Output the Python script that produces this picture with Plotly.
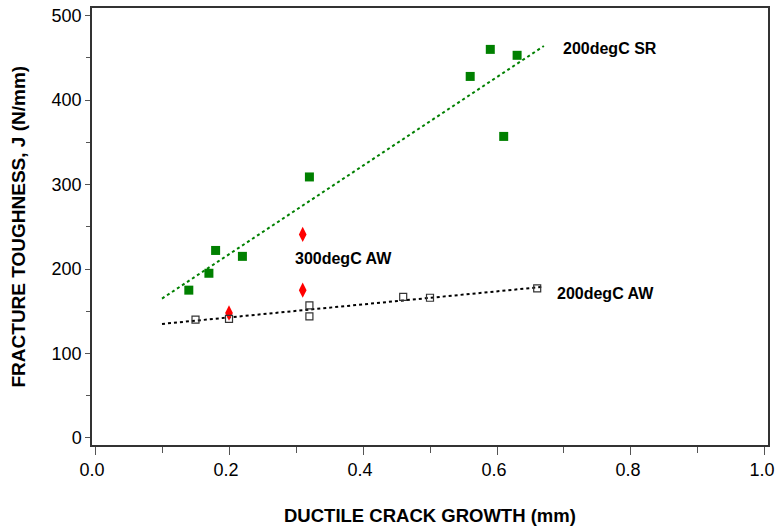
import plotly.graph_objects as go

# 200degC SR (green filled squares)
sr_x = [0.14, 0.17, 0.18, 0.22, 0.32, 0.56, 0.59, 0.61, 0.63]
sr_y = [175, 195, 222, 215, 309, 428, 460, 357, 453]
sr_fit_x = [0.10, 0.67]
sr_fit_y = [165, 464]

# 300degC AW (red diamonds)
aw300_x = [0.20, 0.31, 0.31]
aw300_y = [148, 241, 175]

# 200degC AW (open squares)
aw200_x = [0.15, 0.20, 0.32, 0.32, 0.46, 0.50, 0.66]
aw200_y = [140, 141, 157, 144, 167, 166, 177]
aw200_fit_x = [0.10, 0.67]
aw200_fit_y = [135, 179]

labels = ["200degC SR", "300degC AW", "200degC AW"]
label_x = [0.695, 0.295, 0.687]
label_y = [461, 212, 171]

FONT = "Liberation Sans, Arial, sans-serif"
fig = go.Figure()

fig.add_trace(go.Scatter(x=sr_fit_x, y=sr_fit_y, mode="lines",
                         line=dict(color="#008000", width=2, dash="dot"), hoverinfo="skip"))
fig.add_trace(go.Scatter(x=aw200_fit_x, y=aw200_fit_y, mode="lines",
                         line=dict(color="black", width=2, dash="dot"), hoverinfo="skip"))
fig.add_trace(go.Scatter(x=sr_x, y=sr_y, mode="markers",
                         marker=dict(symbol="square", size=9, color="#008000",
                                     line=dict(width=0))))
fig.add_trace(go.Scatter(x=aw300_x, y=aw300_y, mode="markers",
                         marker=dict(symbol="diamond-tall", size=11, color="#ff0000",
                                     line=dict(width=0))))
fig.add_trace(go.Scatter(x=aw200_x, y=aw200_y, mode="markers",
                         marker=dict(symbol="square-open", size=7, color="#333333",
                                     line=dict(width=1.2))))

for t, x, y in zip(labels, label_x, label_y):
    fig.add_annotation(x=x, y=y, xref="x", yref="y", text="<b>" + t + "</b>", showarrow=False,
                       xanchor="left", yanchor="middle",
                       font=dict(family=FONT, size=16, color="black"))

# axis titles as paper annotations for exact placement
fig.add_annotation(x=0.5, y=0, xref="paper", yref="paper", yshift=-70, xanchor="center",
                   yanchor="middle", showarrow=False,
                   text="<b>DUCTILE CRACK GROWTH (mm)</b>",
                   font=dict(family=FONT, size=18.5, color="black"))
fig.add_annotation(x=0, y=0.5, xref="paper", yref="paper", xshift=-74, xanchor="center",
                   yanchor="middle", showarrow=False, textangle=-90,
                   text="<b>FRACTURE TOUGHNESS, J (N/mm)</b>",
                   font=dict(family=FONT, size=19, color="black"))

axis_common = dict(showgrid=False, zeroline=False, showline=True, linecolor="#333333",
                   linewidth=1.5, mirror=True, ticks="outside", tickcolor="#555555",
                   automargin=False, ticklabeloverflow="allow",
                   tickfont=dict(family=FONT, size=18, color="black"))

fig.update_xaxes(range=[-0.0045, 1.0045], tickvals=[0, 0.2, 0.4, 0.6, 0.8, 1.0],
                 ticktext=["0.0", "0.2", "0.4", "0.6", "0.8", "1.0"], ticklen=8,
                 ticklabelshift=-3,
                 minor=dict(tickvals=[0.1, 0.3, 0.5, 0.7, 0.9], ticklen=6, ticks="outside",
                            tickcolor="#555555"),
                 **axis_common)
fig.update_yaxes(range=[-8.3, 509], tickvals=[0, 100, 200, 300, 400, 500], ticklen=5,
                 minor=dict(tickvals=[50, 150, 250, 350, 450], ticklen=4, ticks="outside",
                            tickcolor="#555555"),
                 **axis_common)

fig.update_layout(width=775, height=526, margin=dict(l=92, r=7, t=8, b=81),
                  plot_bgcolor="white", paper_bgcolor="white", showlegend=False)

# remove the browser's default 8px body margin so the figure fills the window
fig.write_html("out.html", config={"displayModeBar": False},
               post_script="document.body.style.margin='0';")
